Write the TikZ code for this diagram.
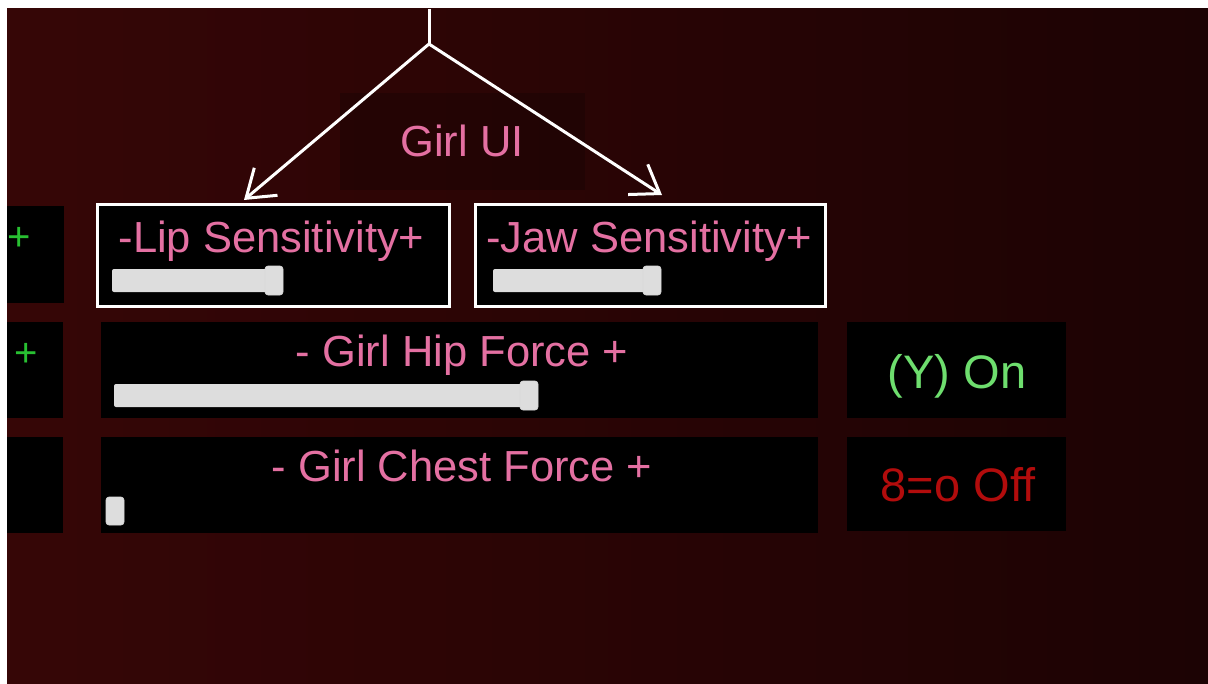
\documentclass[tikz,border=0pt]{standalone}
\usepackage{fontspec}
\setmainfont{Liberation Sans}
\usetikzlibrary{arrows.meta}
\definecolor{uipink}{RGB}{228,112,162}
\definecolor{uigreen}{RGB}{110,222,110}
\definecolor{plusgreen}{RGB}{40,192,50}
\definecolor{uired}{RGB}{178,12,12}
\definecolor{slidergray}{RGB}{221,221,221}
\definecolor{bgleft}{RGB}{54,6,6}
\definecolor{bgright}{RGB}{28,3,4}

\begin{document}
\begin{tikzpicture}[x=0.5pt,y=-0.5pt,line width=1.5pt]
    %
    % `panel' is the black box behind every control.
    % `framedpanel' is a panel with the white outline.
    % `pinktext' is used for the slider captions.
    % `sliderbar' and `sliderknob' make the sliders.
    \tikzstyle{panel} = [fill=black,inner sep=0pt,minimum height=48pt]
    \tikzstyle{framedpanel} = [panel,draw=white,minimum height=50.5pt]
    \tikzstyle{pinktext} = [text=uipink,font=\fontsize{21.75}{26}\selectfont,anchor=base,inner sep=0pt]
    \tikzstyle{switchtext} = [font=\fontsize{23.5}{27}\selectfont,anchor=base,inner sep=0pt]
    \tikzstyle{plus} = [text=plusgreen,font=\fontsize{20}{22}\selectfont,inner sep=0pt]
    \tikzstyle{sliderbar} = [fill=slidergray,rounded corners=1pt]
    \tikzstyle{sliderknob} = [fill=slidergray,draw=black!15,line width=0.3pt,rounded corners=1.5pt]
    \tikzstyle{link} = [draw=white,-{Straight Barb[length=13pt,width=18pt]}]
    %
    % Background
    \fill[white] (0,0) rectangle (1208,684);
    \shade[left color=bgleft,right color=bgright] (7,9) rectangle (1208,684);
    \fill[black,opacity=0.2] (340,93) rectangle (585,190);
    %
    % Title and its two links
    \node[pinktext] (title) at (462,157) {Girl UI};
    \coordinate (src) at (429,9);
    \coordinate (fork) at (429,44);
    \coordinate (lipin) at (244,200);
    \coordinate (jawin) at (662,195);
    \draw[white] (src) -- (fork);
    \draw[link] (fork) -- (lipin);
    \draw[link] (fork) -- (jawin);
    %
    % Row 1
    \node[panel,minimum width=28.5pt,minimum height=48.5pt] (side1) at (35.5,254.5) {};
    \node[plus] (plus1) at (19,239) {+};
    \node[framedpanel,minimum width=176pt] (lipbox) at (273,255.5) {};
    \node[framedpanel,minimum width=175pt] (jawbox) at (650,255.5) {};
    \node[pinktext] (liptext) at (271.5,252) {-Lip Sensitivity+};
    \node[pinktext] (jawtext) at (649,252) {-Jaw Sensitivity+};
    \fill[sliderbar] (112,269) rectangle (270,292);
    \fill[sliderbar] (493,269) rectangle (650,292);
    \filldraw[sliderknob] (265,266) rectangle (283,295);
    \filldraw[sliderknob] (643,266) rectangle (661,295);
    %
    % Row 2
    \node[panel,minimum width=28pt] (side2) at (35,370) {};
    \node[plus] (plus2) at (26,355) {+};
    \node[panel,minimum width=358.5pt] (hipbox) at (459.5,370) {};
    \node[panel,minimum width=109.5pt] (onbox) at (956.5,369.5) {};
    \node[pinktext] (hiptext) at (462,366) {- Girl Hip Force +};
    \node[switchtext,text=uigreen] (ontext) at (957,388) {(Y) On};
    \fill[sliderbar] (114,384) rectangle (525,407);
    \filldraw[sliderknob] (520,381) rectangle (538,410);
    %
    % Row 3
    \node[panel,minimum width=28pt] (side3) at (35,485) {};
    \node[panel,minimum width=358.5pt] (chestbox) at (459.5,485) {};
    \node[panel,minimum width=109.5pt,minimum height=47pt] (offbox) at (956.5,484) {};
    \node[pinktext] (chesttext) at (462,481) {- Girl Chest Force +};
    \node[switchtext,text=uired] (offtext) at (958,501) {8=o Off};
    \filldraw[sliderknob] (106,497) rectangle (124,525);
    %
\end{tikzpicture}
\end{document}
